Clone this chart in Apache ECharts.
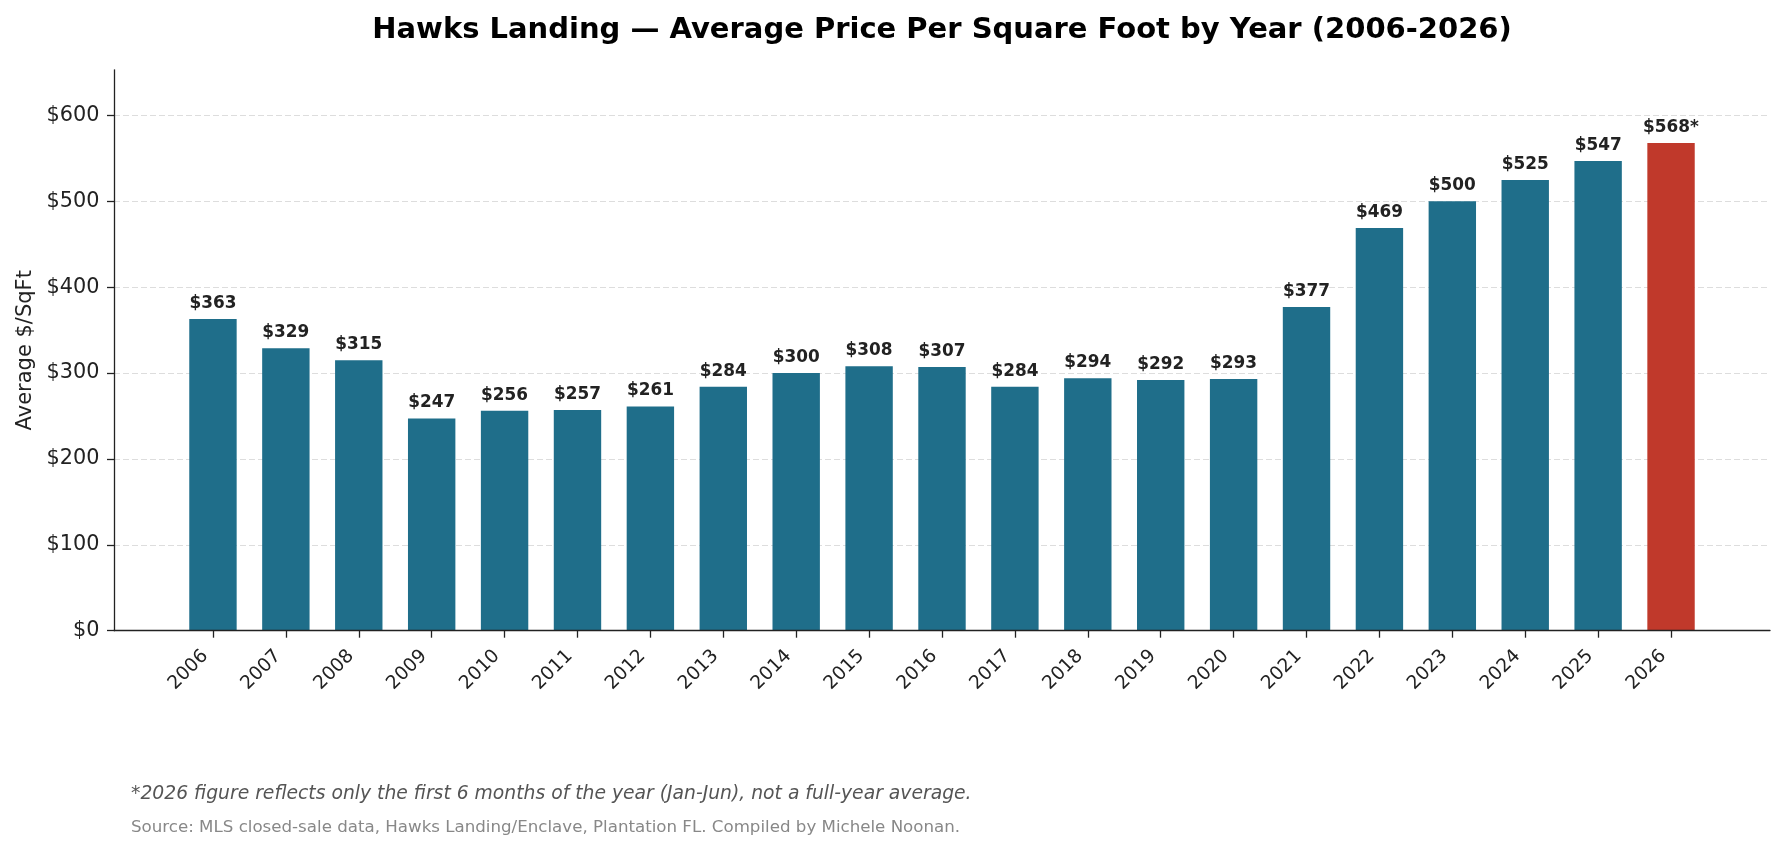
<!DOCTYPE html>
<html>
<head>
<meta charset="utf-8">
<script src="https://cdn.jsdelivr.net/npm/echarts@6/dist/echarts.min.js"></script>
<style>
html,body{margin:0;padding:0;background:#fff;}
#chart{width:1785px;height:852px;}
</style>
</head>
<body>
<div id="chart"></div>
<script>
const years = ['2006','2007','2008','2009','2010','2011','2012','2013','2014','2015','2016','2017','2018','2019','2020','2021','2022','2023','2024','2025','2026'];
const pricePerSqFt = [363,329,315,247,256,257,261,284,300,308,307,284,294,292,293,377,469,500,525,547,568];
const partialYear = '2026';
const yTicks = [0,100,200,300,400,500,600];

const titleText = 'Hawks Landing \u2014 Average Price Per Square Foot by Year (2006-2026)';
const yAxisName = 'Average $/SqFt';
const footnoteText = '*2026 figure reflects only the first 6 months of the year (Jan-Jun), not a full-year average.';
const sourceText = 'Source: MLS closed-sale data, Hawks Landing/Enclave, Plantation FL. Compiled by Michele Noonan.';

const FONT = 'DejaVu Sans';
const TEAL = '#1f6e8a';
const RED = '#c0392b';
const DARK = '#222222';

const Y_MAX = 653.2;
const GRID_TOP = 69.8, GRID_BOTTOM = 221.3, CHART_H = 852;
const plotH = CHART_H - GRID_TOP - GRID_BOTTOM;
const lastTick = yTicks[yTicks.length - 1];
// background grid covering 0..lastTick so its split lines line up with the main axis
const bgTop = GRID_TOP + plotH * (1 - lastTick / Y_MAX);

const barData = pricePerSqFt.map((v, i) => ({
  value: [i, v],
  itemStyle: { color: years[i] === partialYear ? RED : TEAL }
}));
const idx = years.map((y, i) => i);

const chart = echarts.init(document.getElementById('chart'), null, { renderer: 'canvas' });
chart.setOption({
  animation: false,
  backgroundColor: '#ffffff',
  title: {
    text: titleText,
    left: 937,
    textAlign: 'center',
    top: 11,
    textStyle: { fontFamily: FONT, fontSize: 29, fontWeight: 'bold', color: '#000' }
  },
  grid: [
    { left: 114, right: 15, top: GRID_TOP, bottom: GRID_BOTTOM, containLabel: false },
    { left: 114, right: 15, top: bgTop, bottom: GRID_BOTTOM, containLabel: false }
  ],
  xAxis: [
    {
      type: 'value',
      gridIndex: 0,
      min: -1.3575,
      max: 21.3575,
      splitLine: { show: false },
      axisLine: { show: true, onZero: false, lineStyle: { color: DARK, width: 1.3 } },
      axisTick: { show: true, customValues: idx, length: 7, lineStyle: { color: DARK, width: 1.3 } },
      axisLabel: {
        show: true,
        customValues: idx,
        formatter: v => years[Math.round(v)] || '',
        rotate: 45,
        margin: 14.6,
        padding: [0, 11, 0, 0],
        fontFamily: FONT,
        fontSize: 18.75,
        color: DARK
      },
      z: 5
    },
    { type: 'value', gridIndex: 1, min: 0, max: 1, show: false }
  ],
  yAxis: [
    {
      type: 'value',
      gridIndex: 0,
      min: 0,
      max: Y_MAX,
      interval: 100,
      name: yAxisName,
      nameLocation: 'middle',
      nameGap: 75,
      nameTextStyle: { fontFamily: FONT, fontSize: 21, color: DARK },
      axisLine: { show: true, onZero: false, lineStyle: { color: DARK, width: 1.3 } },
      axisTick: { show: true, customValues: yTicks, length: 7, lineStyle: { color: DARK, width: 1.3 } },
      axisLabel: {
        margin: 14.6,
        customValues: yTicks,
        fontFamily: FONT,
        fontSize: 20.8,
        color: DARK,
        formatter: v => '$' + v
      },
      splitLine: { show: false },
      z: 5
    },
    {
      type: 'value',
      gridIndex: 1,
      min: 0,
      max: lastTick,
      interval: 100,
      axisLine: { show: false },
      axisTick: { show: false },
      axisLabel: { show: false },
      splitLine: { show: true, lineStyle: { color: '#dddddd', width: 1, type: [6, 3] } },
      z: 0
    }
  ],
  series: [
    {
      type: 'bar',
      xAxisIndex: 0,
      yAxisIndex: 0,
      data: barData,
      z: 3,
      barWidth: 47.4,
      label: {
        show: true,
        position: 'top',
        distance: 7,
        fontFamily: FONT,
        fontSize: 16.9,
        fontWeight: 'bold',
        color: DARK,
        formatter: p => '$' + p.value[1] + (years[p.value[0]] === partialYear ? '*' : '')
      }
    }
  ],
  graphic: [
    {
      type: 'text', left: 131, top: 785,
      style: { text: footnoteText, font: 'italic 18.75px "DejaVu Sans"', fill: '#555555' }
    },
    {
      type: 'text', left: 131, top: 819,
      style: { text: sourceText, font: '16.67px "DejaVu Sans"', fill: '#888888' }
    }
  ]
});
</script>
</body>
</html>
